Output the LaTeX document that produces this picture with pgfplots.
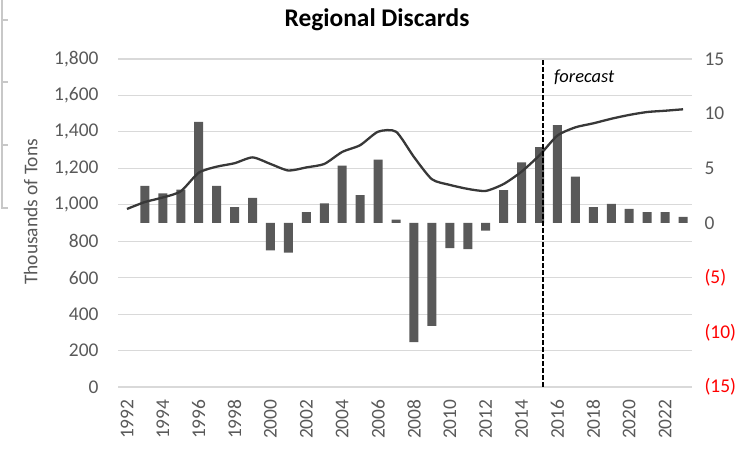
\documentclass[border=0pt]{standalone}
\usepackage{pgfplots}
\pgfplotsset{compat=1.18}
\usepackage{fontspec}
\setmainfont{Carlito}
\definecolor{bargray}{HTML}{595959}
\definecolor{linegray}{HTML}{383838}
\definecolor{gridgray}{HTML}{D9D9D9}
\definecolor{labgray}{HTML}{595959}
\definecolor{negred}{HTML}{FF0000}
\pgfplotsset{
  /pgf/number format/assume math mode=true,
  base/.style={
    at={(118bp,64bp)}, anchor=south west,
    scale only axis, width=574bp, height=328bp,
    xmin=1991.5, xmax=2023.5,
    axis line style={draw=none},
    tick style={draw=none},
    ticklabel style={font=\fontsize{19.5}{22}\selectfont, text=labgray},
  },
}
\pgfplotstableread{
year value
1992 977
1993 1015
1994 1040
1995 1074
1996 1176
1997 1209
1998 1228
1999 1260
2000 1224
2001 1188
2002 1205
2003 1224
2004 1290
2005 1327
2006 1401
2007 1401
2008 1262
2009 1140
2010 1109
2011 1087
2012 1076
2013 1114
2014 1182
2015 1272
2016 1380
2017 1425
2018 1447
2019 1472
2020 1493
2021 1509
2022 1516
2023 1524
}\tons
\pgfplotstableread{
year change
1993 3.4
1994 2.7
1995 3.05
1996 9.25
1997 3.4
1998 1.45
1999 2.3
2000 -2.5
2001 -2.7
2002 1.0
2003 1.8
2004 5.25
2005 2.55
2006 5.8
2007 0.3
2008 -10.9
2009 -9.4
2010 -2.3
2011 -2.4
2012 -0.7
2013 3.0
2014 5.55
2015 6.95
2016 8.95
2017 4.25
2018 1.45
2019 1.75
2020 1.3
2021 1.0
2022 1.0
2023 0.55
}\pct
\begin{document}
\begin{tikzpicture}[x=1bp,y=1bp]
\useasboundingbox (0,0) rectangle (753,451);
% remnant frame of a neighbouring element
\draw[color={rgb,255:red,200;green,200;blue,200}, line width=1.2bp]
  (2,451) -- (2,243) -- (8,243)
  (2,431) -- (8,431) (2,369) -- (8,369) (2,306) -- (8,306);
\node[font=\bfseries\fontsize{25.5}{28}\selectfont, text=black] at (377,431) {Regional Discards};
% left axis: grid, labels
\begin{axis}[base,
  ymin=0, ymax=1800, ytick={0,200,...,1800},
  ymajorgrids, grid style={gridgray, line width=1.2bp},
  yticklabel style={/pgf/number format/1000 sep={,}, xshift=-16bp},
  xtick={1992,1994,...,2022},
  xticklabel style={/pgf/number format/1000 sep={}, yshift=-9bp, rotate=90, anchor=east},
  ylabel={Thousands of Tons},
  ylabel style={at={(axis description cs:-0.152,0.534)}, anchor=center,
    font=\fontsize{19.5}{22}\selectfont, text=labgray},
]
\addplot[draw=none] coordinates {(1992,0)};
\end{axis}
% right axis: bars
\begin{axis}[base,
  ymin=-15, ymax=15, ytick={-15,-10,...,15},
  axis y line*=right, hide x axis,
  yticklabels={\textcolor{negred}{(15)},\textcolor{negred}{(10)},\textcolor{negred}{(5)},0,5,10,15},
  yticklabel style={anchor=west, xshift=9bp},
]
\addplot[ybar, bar width=9bp, fill=bargray, draw=none] table[x=year, y=change] {\pct};
\end{axis}
% line
\begin{axis}[base,
  ymin=0, ymax=1800, hide axis,
]
\addplot[linegray, line width=2.3bp, smooth, tension=0.4] table[x=year, y=value] {\tons};
\addplot[black, line width=1.3bp, dash pattern=on 4.5bp off 2.5bp] coordinates {(2015.2,0) (2015.2,1800)};
\node[anchor=west, inner sep=0, font=\itshape\fontsize{18.5}{21}\selectfont] at (axis cs:2015.8,1700) {forecast};
\end{axis}
\end{tikzpicture}
\end{document}
